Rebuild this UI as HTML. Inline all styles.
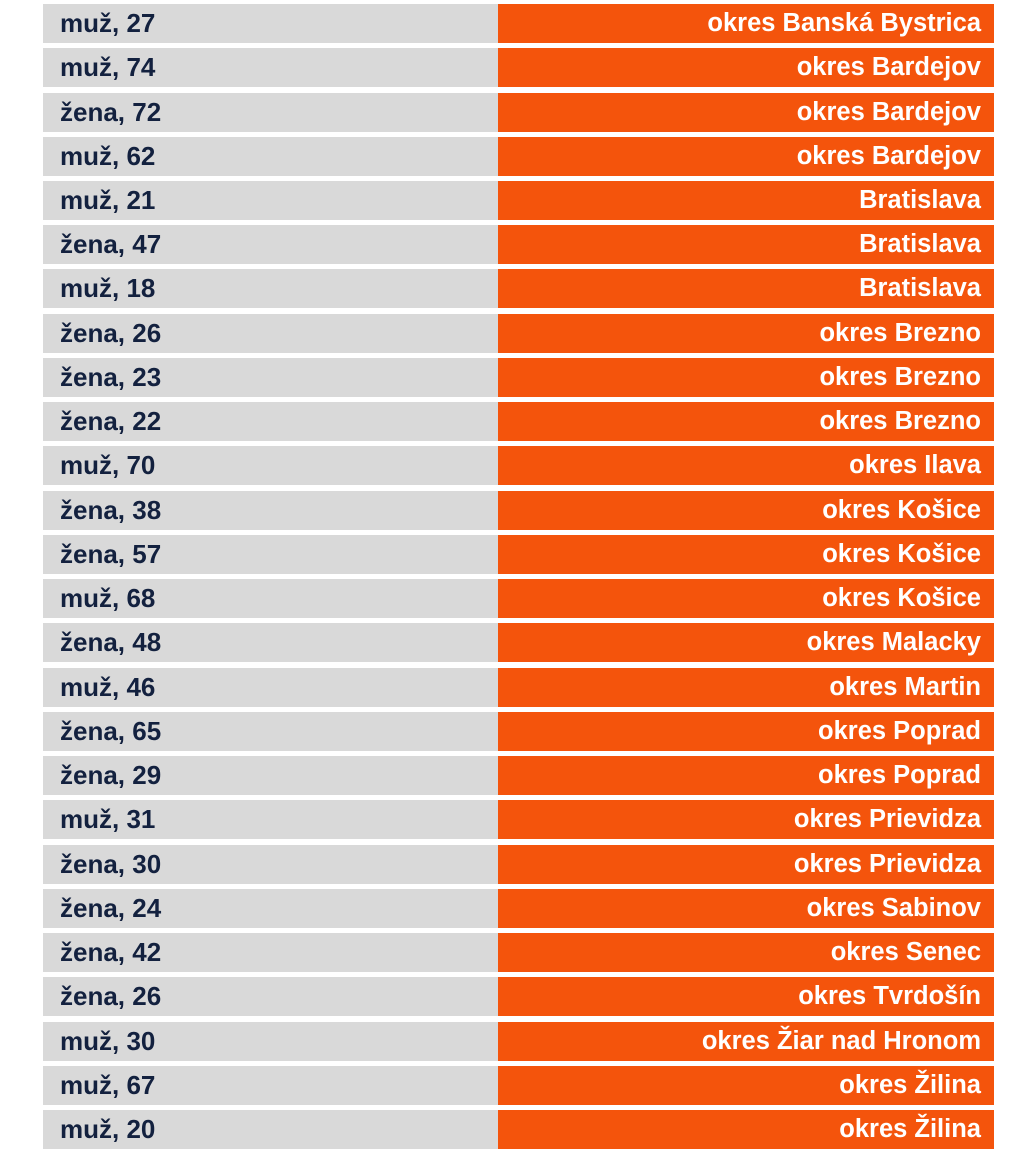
<!DOCTYPE html>
<html><head><meta charset="utf-8"><style>
body{margin:0;background:#fff;width:1024px;height:1161px;overflow:hidden;font-family:"Liberation Sans",sans-serif;font-weight:bold;}
.r{position:absolute;left:43px;width:951px;height:39px;}
.g{position:absolute;left:0;top:0;width:455px;height:39px;background:#d9d9d9;color:#13213f;font-size:26px;line-height:39px;padding-left:17px;box-sizing:border-box;white-space:nowrap;}
.o{position:absolute;left:455px;top:0;width:496px;height:39px;background:#f4540c;color:#fff;font-size:25.5px;line-height:39px;text-align:right;padding-right:13px;box-sizing:border-box;white-space:nowrap;}
</style></head><body>
<div id="c"></div>
<script>
var d=[["muž, 27","okres Banská Bystrica"],["muž, 74","okres Bardejov"],["žena, 72","okres Bardejov"],["muž, 62","okres Bardejov"],["muž, 21","Bratislava"],["žena, 47","Bratislava"],["muž, 18","Bratislava"],["žena, 26","okres Brezno"],["žena, 23","okres Brezno"],["žena, 22","okres Brezno"],["muž, 70","okres Ilava"],["žena, 38","okres Košice"],["žena, 57","okres Košice"],["muž, 68","okres Košice"],["žena, 48","okres Malacky"],["muž, 46","okres Martin"],["žena, 65","okres Poprad"],["žena, 29","okres Poprad"],["muž, 31","okres Prievidza"],["žena, 30","okres Prievidza"],["žena, 24","okres Sabinov"],["žena, 42","okres Senec"],["žena, 26","okres Tvrdošín"],["muž, 30","okres Žiar nad Hronom"],["muž, 67","okres Žilina"],["muž, 20","okres Žilina"]];
var h="";d.forEach(function(x,i){h+='<div class="r" style="top:'+(4+i*44.24).toFixed(1)+'px"><div class="g">'+x[0]+'</div><div class="o">'+x[1]+'</div></div>';});
document.getElementById("c").innerHTML=h;
</script>
</body></html>
